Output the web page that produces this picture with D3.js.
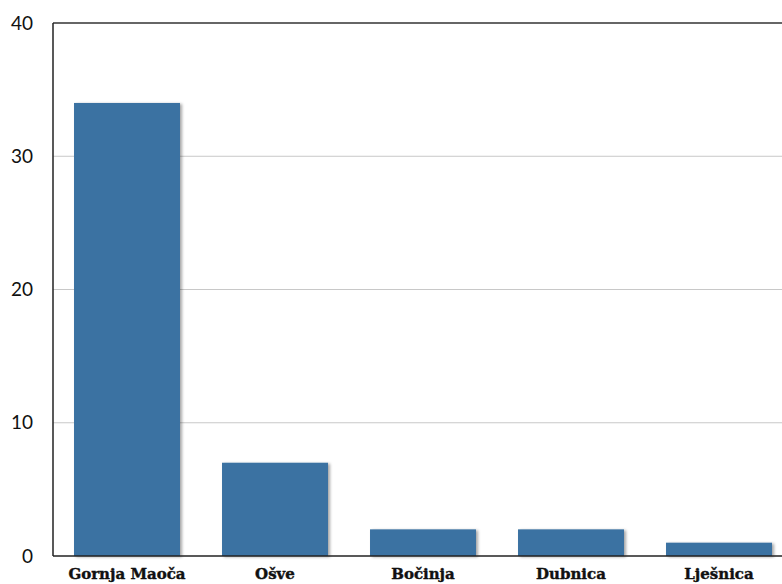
<!DOCTYPE html>
<html><head><meta charset="utf-8">
<script src="https://cdn.jsdelivr.net/npm/d3@7"></script>
<style>body{margin:0;background:#fff}svg{display:block}</style>
</head><body>
<script>
const categories = ["Gornja Maoča", "Ošve", "Bočinja", "Dubnica", "Lješnica"];
const values = [34, 7, 2, 2, 1];
const yTicks = [0, 10, 20, 30, 40];

const W = 782, H = 584;
const svg = d3.select("body").append("svg").attr("width", W).attr("height", H);
const defs = svg.append("defs");
const f = defs.append("filter").attr("id","sh").attr("x","-10%").attr("y","-10%").attr("width","130%").attr("height","130%");
f.append("feDropShadow").attr("dx",2).attr("dy",1).attr("stdDeviation",1.5).attr("flood-color","#000").attr("flood-opacity",0.35);

const x = d3.scaleBand().domain(categories).range([53, 793]).paddingInner(0.284).paddingOuter(0.142);
const y = d3.scaleLinear().domain([0, 40]).range([556, 23]);

// gridlines
svg.append("g").selectAll("line").data(yTicks.filter(d => d > 0 && d < 40)).join("line")
  .attr("x1", 53).attr("x2", W).attr("y1", d => y(d)).attr("y2", d => y(d))
  .attr("stroke", "#c8c8c8").attr("stroke-width", 1);
// top line
svg.append("line").attr("x1", 53).attr("x2", W).attr("y1", y(40)).attr("y2", y(40))
  .attr("stroke", "#333").attr("stroke-width", 1.5);

// bars
svg.append("g").selectAll("rect").data(values).join("rect")
  .attr("x", (d, i) => x(categories[i])).attr("width", x.bandwidth())
  .attr("y", d => y(d)).attr("height", d => y(0) - y(d))
  .attr("fill", "#3b72a2").attr("filter", "url(#sh)");

// axes lines
svg.append("line").attr("x1", 53).attr("x2", 53).attr("y1", y(40)).attr("y2", y(0)).attr("stroke", "#222").attr("stroke-width", 1.5);
svg.append("line").attr("x1", 53).attr("x2", W).attr("y1", y(0)).attr("y2", y(0)).attr("stroke", "#222").attr("stroke-width", 1.5);

// y tick labels
svg.append("g").selectAll("text").data(yTicks).join("text")
  .attr("x", 33).attr("y", d => y(d)).attr("dy", "0.35em").attr("text-anchor", "end")
  .attr("font-family", "Lato, 'DejaVu Sans', sans-serif").attr("font-size", 19).attr("fill", "#111")
  .text(d => d);

// category labels
svg.append("g").selectAll("text").data(categories).join("text")
  .attr("x", d => x(d) + x.bandwidth() / 2).attr("y", 579).attr("text-anchor", "middle")
  .attr("font-family", "'DejaVu Serif', serif").attr("font-weight", "bold").attr("font-size", 15)
  .attr("stroke", "#111").attr("stroke-width", 0.4).attr("fill", "#111")
  .text(d => d);
</script>
</body></html>
